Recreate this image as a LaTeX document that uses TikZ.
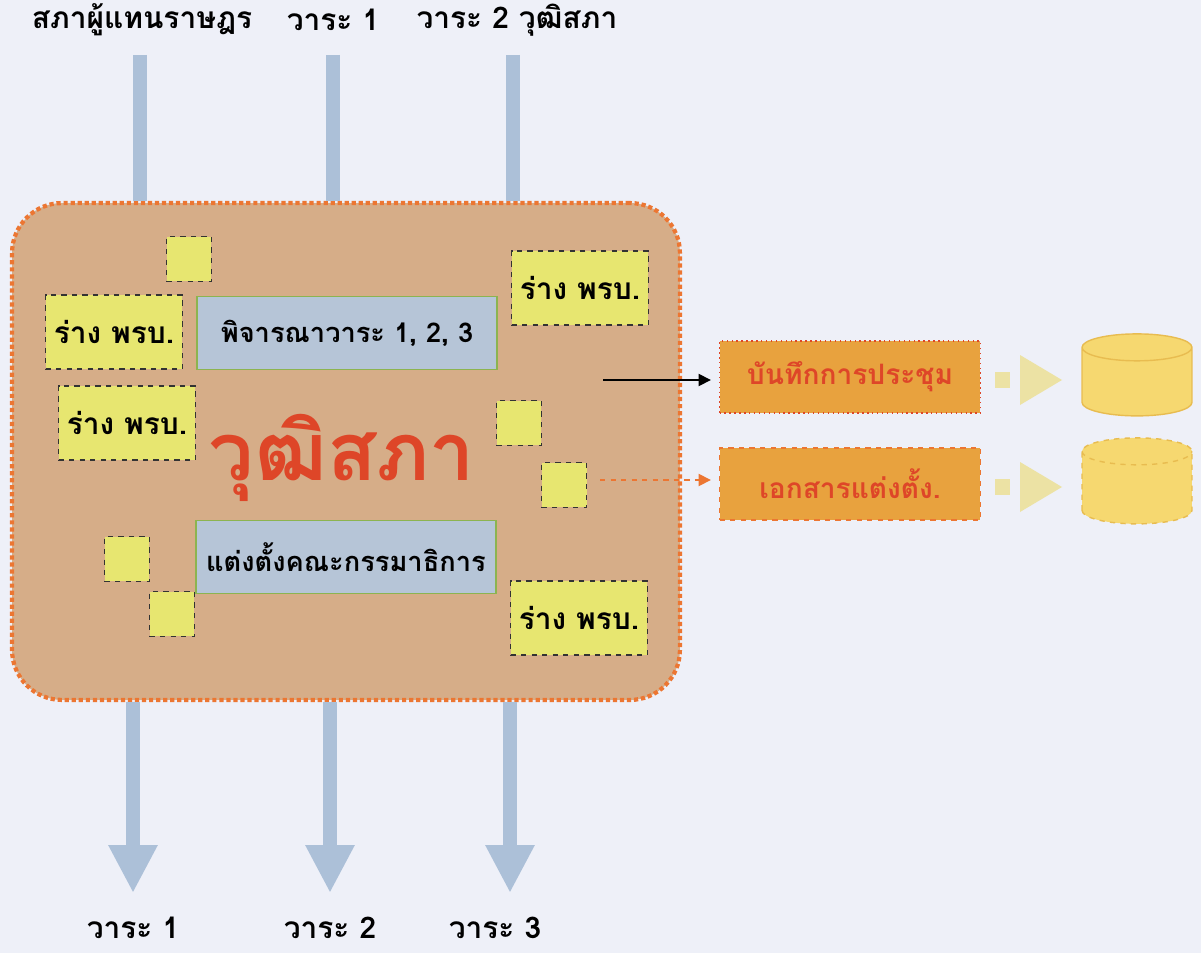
\documentclass[tikz,border=0pt]{standalone}
\usepackage{fontspec}
\newfontfamily\thaifont[Script=Thai]{Loma}
\usetikzlibrary{positioning,arrows.meta,shapes.geometric}
\definecolor{bgcol}{RGB}{238,240,248}
\definecolor{tan}{RGB}{214,173,136}
\definecolor{dotorange}{RGB}{236,118,50}
\definecolor{ybox}{RGB}{231,230,112}
\definecolor{bbox}{RGB}{182,197,215}
\definecolor{bline}{RGB}{140,180,80}
\definecolor{barblue}{RGB}{172,192,216}
\definecolor{gold}{RGB}{232,162,62}
\definecolor{redtext}{RGB}{222,70,40}
\definecolor{cylfill}{RGB}{246,216,112}
\definecolor{cylline}{RGB}{232,188,80}
\definecolor{pale}{RGB}{236,226,164}

\begin{document}
\begin{tikzpicture}
  [x=0.02cm,y=-0.02cm,
  every node/.style={font=\thaifont\bfseries\fontsize{17}{19}\selectfont},
  senate/.style={draw=dotorange,fill=tan,line width=2.4pt,dash pattern=on 2.4pt off 1.6pt,rounded corners=1cm,minimum width=13.36cm,minimum height=9.94cm},
  draftbox/.style={draw=black!80,fill=ybox,thick,dashed,minimum width=2.74cm,minimum height=1.48cm},
  smallsq/.style={draw=black!80,fill=ybox,thick,dashed,minimum width=0.9cm,minimum height=0.9cm},
  stepbox/.style={draw=bline,fill=bbox,thick,minimum width=6cm,minimum height=1.46cm,inner sep=2pt,font=\thaifont\bfseries\fontsize{15.5}{18}\selectfont},
  resbox/.style={fill=gold,text=redtext,minimum width=5.22cm,minimum height=1.44cm,font=\thaifont\bfseries\fontsize{16}{18}\selectfont},
  cyl/.style={cylinder,shape border rotate=90,shape aspect=2.3,draw=cylline,fill=cylfill,thick,minimum width=2.2cm},
  bar/.style={barblue,line width=0.28cm},
  bigarrow/.style={barblue,line width=0.28cm,-{Triangle[width=0.92cm,length=0.96cm]}}]
  \fill[bgcol] (0,0) rectangle (1201,953);
  \useasboundingbox (0,0) rectangle (1201,953);

  % top labels and bars
  \node (lab1) at (142,20) {สภาผู้แทนราษฎร};
  \node (lab2) at (333,20) {วาระ 1};
  \node (lab3) at (517,20) {วาระ 2 วุฒิสภา};
  \coordinate (t1) at (140,55);
  \coordinate (t2) at (333,55);
  \coordinate (t3) at (513,55);

  \node[senate] (sen) at (346,451.5) {};
  \draw[bar] (t1) -- (t1 |- sen.north);
  \draw[bar] (t2) -- (t2 |- sen.north);
  \draw[bar] (t3) -- (t3 |- sen.north);

  \node[smallsq] (s1) at (189,259) {};
  \node[draftbox] (d1) at (114,332) {ร่าง พรบ.};
  \node[stepbox] (p1) at (347,333) {พิจารณาวาระ 1, 2, 3};
  \node[draftbox] (d2) at (580,288) {ร่าง พรบ.};
  \node[draftbox] (d3) at (127,423) {ร่าง พรบ.};
  \node[smallsq] (s2) at (519,423) {};
  \node[smallsq] (s3) at (564,485) {};
  \node[text=redtext,font=\thaifont\bfseries\fontsize{46}{50}\selectfont] (title) at (342,458) {วุฒิสภา};
  \node[stepbox] (p2) at (346,557) {แต่งตั้งคณะกรรมาธิการ};
  \node[smallsq] (s4) at (127,559) {};
  \node[smallsq] (s5) at (172,614) {};
  \node[draftbox] (d4) at (579,618) {ร่าง พรบ.};

  % bottom arrows
  \coordinate (b1) at (133,893);
  \coordinate (b2) at (330,893);
  \coordinate (b3) at (510,893);
  \draw[bigarrow] (b1 |- sen.south) -- (b1);
  \draw[bigarrow] (b2 |- sen.south) -- (b2);
  \draw[bigarrow] (b3 |- sen.south) -- (b3);
  \node (lab4) at (133,928) {วาระ 1};
  \node (lab5) at (330,928) {วาระ 2};
  \node (lab6) at (495,928) {วาระ 3};

  % outputs
  \node[resbox,draw=redtext,dotted,thick] (r1) at (850,377) {บันทึกการประชุม};
  \node[resbox,draw=dotorange,dashed,thick] (r2) at (850,484) {เอกสารแต่งตั้ง.};
  \coordinate (o1) at (603,380);
  \coordinate (o2) at (600,480);
  \draw[thick,-{Triangle[width=7pt,length=7pt]},shorten >=0.16cm] (o1) -- (r1.west |- o1);
  \draw[dotorange,thick,dashed,-{Triangle[width=7pt,length=7pt]},shorten >=0.16cm] (o2) -- (r2.west |- o2);

  \fill[pale] (995,372) rectangle (1010,388);
  \fill[pale] (1020,355) -- (1062,380) -- (1020,405) -- cycle;
  \fill[pale] (995,479) rectangle (1010,495);
  \fill[pale] (1020,462) -- (1062,487) -- (1020,512) -- cycle;

  \node[cyl,minimum height=1.64cm] (c1) at (1137,385) {};
  \node[cyl,dashed,minimum height=1.72cm] (c2) at (1137,491) {};
\end{tikzpicture}
\end{document}
